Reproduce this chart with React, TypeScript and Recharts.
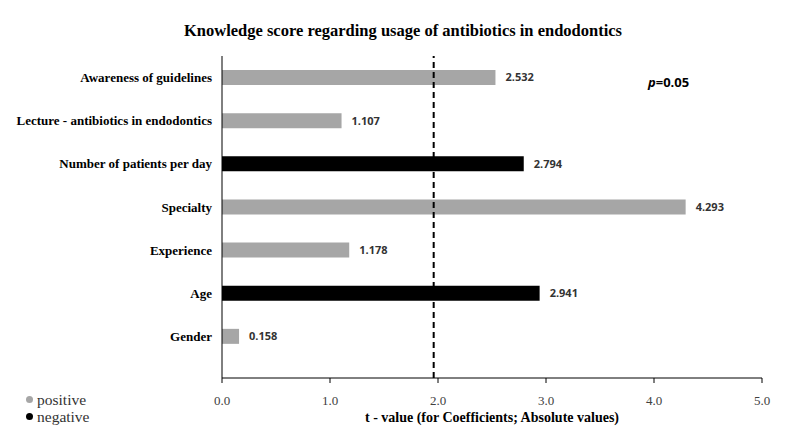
import React from 'react';
import {
  BarChart,
  Bar,
  XAxis,
  YAxis,
  Cell,
  LabelList,
  Label,
  ReferenceLine,
} from 'recharts';

const categories = [
  'Awareness of guidelines',
  'Lecture - antibiotics in endodontics',
  'Number of patients per day',
  'Specialty',
  'Experience',
  'Age',
  'Gender',
];
const tValues = [2.532, 1.107, 2.794, 4.293, 1.178, 2.941, 0.158];
const signs = ['positive', 'positive', 'negative', 'positive', 'positive', 'negative', 'positive'];
const xTicks = [0, 1, 2, 3, 4, 5];
const criticalT = 1.96;

const SIGN_COLORS: Record<string, string> = {
  positive: '#A6A6A6',
  negative: '#000000',
};

const data = categories.map((name, i) => ({ name, value: tValues[i], sign: signs[i] }));

const serif = '"Liberation Serif", "Times New Roman", serif';
const sans = '"Open Sans", "Liberation Sans", sans-serif';

// single-line category tick, right aligned against the axis
const CategoryTick = (props: any) => {
  const { x, y, payload } = props;
  return (
    <text
      x={x}
      y={y}
      dy="0.35em"
      textAnchor="end"
      fontFamily={serif}
      fontSize={13}
      fontWeight="bold"
      fill="#000"
    >
      {payload.value}
    </text>
  );
};

export default function App() {
  return (
    <div style={{ position: 'absolute', left: 0, top: 0, width: 787, height: 426, background: '#fff' }}>
      <div
        style={{
          position: 'absolute',
          top: 21,
          left: 0,
          width: 806,
          textAlign: 'center',
          fontFamily: serif,
          fontWeight: 'bold',
          fontSize: 16.5,
          color: '#000',
        }}
      >
        Knowledge score regarding usage of antibiotics in endodontics
      </div>
      <BarChart
        width={787}
        height={426}
        data={data}
        layout="vertical"
        margin={{ top: 56, right: 25, left: 0, bottom: 0 }}
        barCategoryGap={0}
      >
        <XAxis
          type="number"
          domain={[0, 5]}
          ticks={xTicks}
          tickFormatter={(v) => Number(v).toFixed(1)}
          stroke="#000"
          tickSize={5}
          tickMargin={13}
          height={48}
          tick={{ fontFamily: serif, fontSize: 13, fill: '#404040' }}
        >
          <Label
            value="t - value (for Coefficients; Absolute values)"
            position="insideBottom"
            offset={4}
            style={{ fontFamily: serif, fontSize: 14, fontWeight: 'bold', fill: '#000' }}
          />
        </XAxis>
        <YAxis
          type="category"
          dataKey="name"
          width={222}
          stroke="#000"
          tickLine={false}
          tickMargin={4}
          padding={{ top: 0, bottom: 20 }}
          interval={0}
          tick={<CategoryTick />}
        />
        <ReferenceLine x={criticalT} stroke="#000" strokeWidth={2} strokeDasharray="6 4" />
        <Bar dataKey="value" barSize={15} isAnimationActive={false}>
          {data.map((d, i) => (
            <Cell key={`c-${i}`} fill={SIGN_COLORS[d.sign]} />
          ))}
          <LabelList
            dataKey="value"
            position="right"
            offset={10}
            formatter={(v: any) => Number(v).toFixed(3)}
            style={{ fontFamily: sans, fontSize: 11, fontWeight: 'bold', fill: '#333' }}
          />
        </Bar>
      </BarChart>
      <div
        style={{
          position: 'absolute',
          left: 648,
          top: 73,
          fontFamily: sans,
          fontWeight: 'bold',
          fontSize: 13,
          color: '#000',
        }}
      >
        <i>p</i>=0.05
      </div>
      <div style={{ position: 'absolute', left: 26, top: 391, fontFamily: serif, fontSize: 15.5, color: '#333', lineHeight: '17px' }}>
        {['positive', 'negative'].map((s) => (
          <div key={s} style={{ display: 'flex', alignItems: 'center' }}>
            <span
              style={{
                display: 'inline-block',
                width: 7,
                height: 7,
                borderRadius: '50%',
                background: SIGN_COLORS[s],
                marginRight: 4,
              }}
            />
            {s}
          </div>
        ))}
      </div>
    </div>
  );
}
